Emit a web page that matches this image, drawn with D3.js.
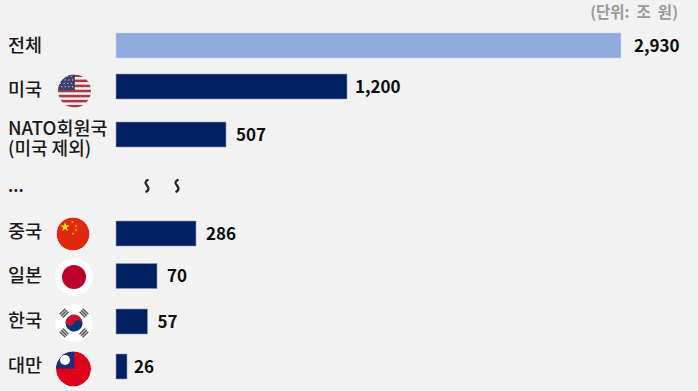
<!DOCTYPE html>
<html><head><meta charset="utf-8">
<script src="https://cdn.jsdelivr.net/npm/d3@7/dist/d3.min.js"></script>
<style>html,body{margin:0;padding:0;background:#f2f2f2}svg{display:block}
text{font-family:"Noto Sans CJK KR","Noto Sans",sans-serif}</style></head><body>
<script>
const categories=["전체","미국","NATO회원국","중국","일본","한국","대만"];
const values=[2930,1200,507,286,70,57,26];
const valueLabels=["2,930","1,200","507","286","70","57","26"];
const unitLabel="(단위: 조 원)";
const ellipsisLabel="...";
const subLabel="(미국 제외)";
// The reference's bars are not proportional (its axis is broken), so the scale has knots.
const scaleDomain=[0,26,57,70,286,507,1200,2930];
const scaleRange=[116,127,147.5,157,196,226,347,621];
const rowCentres=[45.5,86.5,134.5,233.5,276,321.5,366.5];
const labelCentres=[45,89,128,231,275,320,365];
const W=698,H=391;
const x=d3.scaleLinear().domain(scaleDomain).range(scaleRange);
const y=d3.scaleOrdinal().domain(categories).range(rowCentres);
const ly=d3.scaleOrdinal().domain(categories).range(labelCentres);
const barH=25;
const svg=d3.select("body").append("svg").attr("width",W).attr("height",H);
svg.append("rect").attr("width",W).attr("height",H).attr("fill","#f2f2f2");

svg.append("text").attr("x",678).attr("y",18).attr("text-anchor","end")
  .attr("font-size",15.5).attr("font-weight",700).attr("word-spacing",3.5).attr("fill","#9a9a9a").text(unitLabel);

svg.selectAll("rect.bar").data(categories).join("rect").attr("class","bar")
  .attr("x",x(0)).attr("y",d=>y(d)-barH/2)
  .attr("width",(d,i)=>x(values[i])-x(0)).attr("height",barH)
  .attr("fill",(d,i)=>i===0?"#8faadc":"#002060")
  .attr("stroke",(d,i)=>i===0?"#c5d3ec":"#8d9bb8").attr("stroke-width",.6);

svg.selectAll("text.val").data(categories).join("text").attr("class","val")
  .attr("x",(d,i)=>x(values[i])+(i===0?13:i===6?7:i===1?8:10)).attr("y",d=>y(d))
  .attr("dy","0.36em").attr("font-size",17).attr("font-weight",700).attr("fill","#0d0d0d")
  .text((d,i)=>valueLabels[i]);

const catText=svg.selectAll("text.cat").data(categories).join("text").attr("class","cat")
  .attr("x",8).attr("y",d=>ly(d)).attr("dy","0.36em")
  .attr("font-size",18.5).attr("font-weight",500).attr("fill","#1a1a1a").text(d=>d);
// The NATO label wraps onto a second line inside the same text element.
catText.filter(d=>d==="NATO회원국").append("tspan").attr("x",8).attr("dy",20.5).attr("font-size",18).text(subLabel);
svg.append("text").attr("x",8).attr("y",186).attr("dy","0.36em")
  .attr("font-size",16).attr("font-weight",700).attr("fill","#1a1a1a").text(ellipsisLabel);

// axis-break squiggles
[147,177].forEach(cx=>svg.append("path")
  .attr("d",`M${cx+1.5},179.5 C${cx-3.5},182 ${cx-1},184 ${cx},185.5 C${cx+1.5},187.5 ${cx+3},190 ${cx-1.5},192`)
  .attr("fill","none").attr("stroke","#222").attr("stroke-width",2.2));

// flags
const defs=svg.append("defs");
function flag(id,cx,cy,r,draw){
  defs.append("clipPath").attr("id",id).append("circle").attr("cx",cx).attr("cy",cy).attr("r",r);
  const g=svg.append("g").attr("clip-path",`url(#${id})`);
  draw(g,cx,cy,r);
}
function star(g,cx,cy,r,fill){
  const p=d3.range(10).map(i=>{const a=-Math.PI/2+i*Math.PI/5,q=i%2?r*.4:r;return [cx+q*Math.cos(a),cy+q*Math.sin(a)];});
  g.append("polygon").attr("points",p.join(" ")).attr("fill",fill);
}
flag("us",74.5,91,16.5,(g,cx,cy,r)=>{
  g.append("rect").attr("x",cx-r).attr("y",cy-r).attr("width",2*r).attr("height",2*r).attr("fill","#f3eeee");
  d3.range(7).forEach(i=>g.append("rect").attr("x",cx-r).attr("y",cy-r+i*2*r/6.5).attr("width",2*r).attr("height",r/6.5).attr("fill","#a83a48"));
  g.append("rect").attr("x",cx-r).attr("y",cy-r).attr("width",r*1.02).attr("height",r*.95).attr("fill","#3c3f70");
  d3.range(4).forEach(a=>d3.range(4).forEach(b=>g.append("circle").attr("cx",cx-r+2.5+b*3.6+(a%2)*1.2).attr("cy",cy-r+2+a*3.4).attr("r",.6).attr("fill","#d9d9e6")));
});
flag("cn",73,234,16.5,(g,cx,cy,r)=>{
  g.append("circle").attr("cx",cx).attr("cy",cy).attr("r",r).attr("fill","#de2910");
  star(g,cx-8,cy-7,5,"#ffde00");
  [[-.5,-12],[3,-8],[3,-4],[0,-.5]].forEach(o=>star(g,cx+o[0],cy+o[1],1.6,"#ffc000"));
});
flag("jp",74,277,19,(g,cx,cy,r)=>{
  g.append("circle").attr("cx",cx).attr("cy",cy).attr("r",r).attr("fill","#fff");
  g.append("circle").attr("cx",cx).attr("cy",cy).attr("r",12).attr("fill","#bc002d");
});
flag("kr",74,323,19,(g,cx,cy,r)=>{
  g.append("circle").attr("cx",cx).attr("cy",cy).attr("r",r).attr("fill","#fff");
  const tr=g.append("g").attr("transform",`translate(${cx},${cy}) rotate(20)`);
  const R=8.5;
  tr.append("path").attr("d",`M${-R},0 A${R},${R} 0 0 1 ${R},0 Z`).attr("fill","#c8102e");
  tr.append("path").attr("d",`M${-R},0 A${R},${R} 0 0 0 ${R},0 Z`).attr("fill","#003478");
  tr.append("circle").attr("cx",-R/2).attr("cy",0).attr("r",R/2).attr("fill","#c8102e");
  tr.append("circle").attr("cx",R/2).attr("cy",0).attr("r",R/2).attr("fill","#003478");
  [45,135,225,315].forEach(a=>{
    const t=g.append("g").attr("transform",`translate(${cx},${cy}) rotate(${a}) translate(0,-14)`);
    [-2.2,0,2.2].forEach(o=>t.append("rect").attr("x",-4).attr("y",o-.8).attr("width",8).attr("height",1.5).attr("fill","#555"));
  });
});
flag("tw",73.5,369,17.5,(g,cx,cy,r)=>{
  g.append("circle").attr("cx",cx).attr("cy",cy).attr("r",r).attr("fill","#e0001b");
  g.append("rect").attr("x",cx-r).attr("y",cy-r).attr("width",r*1.05).attr("height",r*.98).attr("fill","#1c2d7a");
  g.append("circle").attr("cx",cx-8.5).attr("cy",cy-9).attr("r",5).attr("fill","#fff");
});
</script></body></html>
